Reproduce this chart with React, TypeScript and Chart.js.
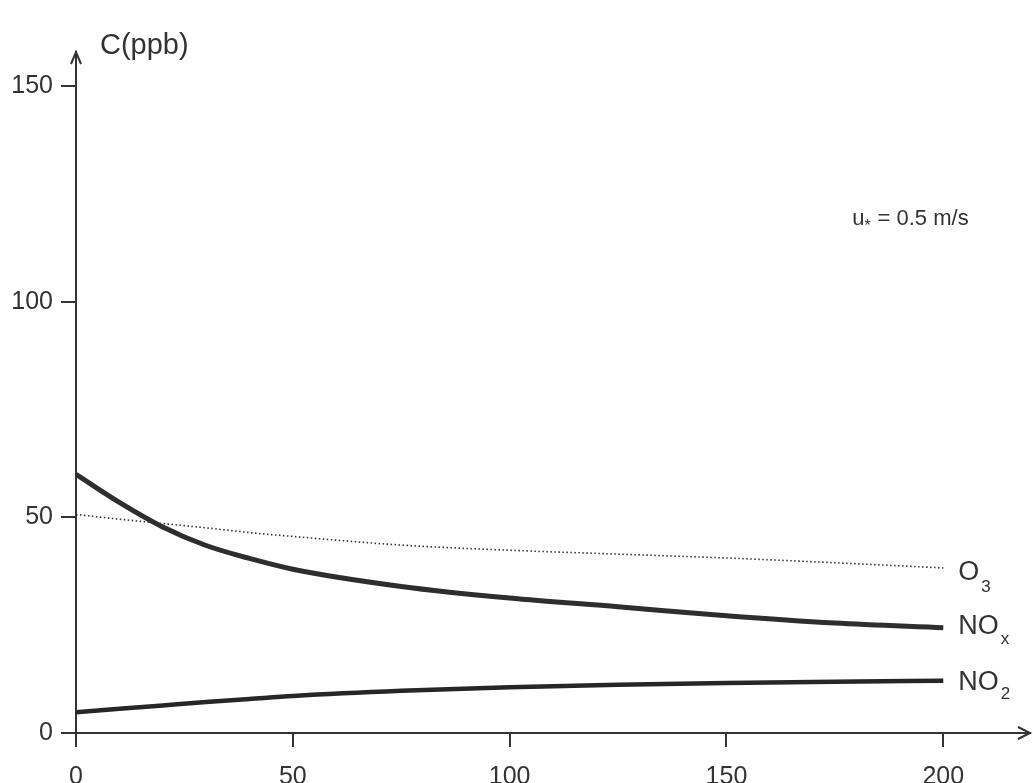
import React, { useEffect, useRef } from "react";
import { Chart, registerables } from "chart.js";

Chart.register(...registerables);

// Distance downwind (x) and concentrations in ppb
const distance = [0, 10, 20, 30, 40, 50, 75, 100, 125, 150, 175, 200];
const noxValues = [60, 53.5, 47.8, 43.5, 40.5, 38, 34, 31.3, 29.3, 27.2, 25.5, 24.4];
const o3Values = [50.7, 49.6, 48.6, 47.6, 46.5, 45.6, 43.6, 42.4, 41.5, 40.6, 39.5, 38.3];
const no2Values = [4.8, 5.6, 6.4, 7.2, 7.9, 8.6, 9.8, 10.6, 11.2, 11.6, 11.9, 12.1];

const xTickValues = [0, 50, 100, 150, 200];
const yTickValues = [0, 50, 100, 150];

const INK = "#333333";
const FONT = "'Liberation Sans', Arial, sans-serif";

const toPoints = (ys: number[]) => distance.map((x, i) => ({ x, y: ys[i] }));

// Arrowheads on the axes plus the text annotations
const annotations = {
  id: "annotations",
  afterDraw(chart: any) {
    const { ctx, chartArea } = chart;
    const xs = chart.scales.x;
    const ys = chart.scales.y;
    ctx.save();
    ctx.strokeStyle = INK;
    ctx.lineWidth = 2;
    // y-axis arrow
    ctx.beginPath();
    ctx.moveTo(chartArea.left - 5, chartArea.top + 12);
    ctx.lineTo(chartArea.left, chartArea.top);
    ctx.lineTo(chartArea.left + 5, chartArea.top + 12);
    ctx.stroke();
    // x-axis arrow
    ctx.beginPath();
    ctx.moveTo(chartArea.right - 12, chartArea.bottom - 6);
    ctx.lineTo(chartArea.right, chartArea.bottom);
    ctx.lineTo(chartArea.right - 12, chartArea.bottom + 6);
    ctx.stroke();

    ctx.fillStyle = INK;
    ctx.textBaseline = "middle";
    ctx.textAlign = "left";

    // axis title
    ctx.font = `29px ${FONT}`;
    ctx.fillText("C(ppb)", chartArea.left + 24, 46);

    // friction velocity note
    const ux = xs.getPixelForValue(179);
    const uy = ys.getPixelForValue(119.3);
    ctx.font = `22px ${FONT}`;
    ctx.fillText("u", ux, uy);
    const uw = ctx.measureText("u").width;
    ctx.font = `16px ${FONT}`;
    ctx.fillText("*", ux + uw, uy + 8);
    ctx.font = `22px ${FONT}`;
    ctx.fillText(" = 0.5 m/s", ux + uw + 7, uy);

    // series labels with subscripts
    const lx = xs.getPixelForValue(200) + 15;
    const label = (main: string, sub: string, v: number, subDy: number) => {
      const py = ys.getPixelForValue(v);
      ctx.font = `27px ${FONT}`;
      ctx.fillText(main, lx, py);
      const w = ctx.measureText(main).width;
      ctx.font = `17px ${FONT}`;
      ctx.fillText(sub, lx + w + 2, py + subDy);
    };
    label("O", "3", 37.3, 15);
    label("NO", "x", 24.7, 13);
    label("NO", "2", 11.6, 11);
    ctx.restore();
  },
};

export default function App() {
  const canvasRef = useRef<HTMLCanvasElement | null>(null);

  useEffect(() => {
    if (!canvasRef.current) return;
    const chart = new Chart(canvasRef.current, {
      type: "line",
      data: {
        datasets: [
          {
            label: "O3",
            data: toPoints(o3Values),
            borderColor: INK,
            borderWidth: 1.6,
            borderDash: [1.5, 2.5],
            pointRadius: 0,
            cubicInterpolationMode: "monotone",
          },
          {
            label: "NOx",
            data: toPoints(noxValues),
            borderColor: "#2e2e2e",
            borderWidth: 5,
            pointRadius: 0,
            cubicInterpolationMode: "monotone",
          },
          {
            label: "NO2",
            data: toPoints(no2Values),
            borderColor: "#262626",
            borderWidth: 4.5,
            pointRadius: 0,
            cubicInterpolationMode: "monotone",
          },
        ],
      },
      options: {
        animation: false,
        responsive: false,
        events: [],
        layout: { padding: { left: 0, right: 3, top: 52, bottom: 0 } },
        plugins: { legend: { display: false }, tooltip: { enabled: false } },
        scales: {
          x: {
            type: "linear",
            min: 0,
            max: 220,
            afterBuildTicks: (s: any) => {
              s.ticks = xTickValues.map((v) => ({ value: v }));
            },
            afterFit: (s: any) => {
              s.height = 50;
            },
            border: { display: true, color: INK, width: 2 },
            grid: { drawOnChartArea: false, drawTicks: true, tickLength: 14, color: INK, lineWidth: 2 },
            ticks: { color: INK, font: { family: FONT, size: 25 }, padding: 15, maxRotation: 0 },
          },
          y: {
            type: "linear",
            min: 0,
            max: 158,
            afterBuildTicks: (s: any) => {
              s.ticks = yTickValues.map((v) => ({ value: v }));
            },
            afterFit: (s: any) => {
              s.width = 76;
            },
            border: { display: true, color: INK, width: 2 },
            grid: { drawOnChartArea: false, drawTicks: true, tickLength: 15, color: INK, lineWidth: 2 },
            ticks: { color: INK, font: { family: FONT, size: 25 }, padding: 8 },
          },
        },
      },
      plugins: [annotations],
    });
    return () => chart.destroy();
  }, []);

  return (
    <div style={{ position: "fixed", left: 0, top: 0, width: 1033, height: 783, background: "#fff" }}>
      <canvas ref={canvasRef} width={1033} height={783} style={{ width: 1033, height: 783 }} />
    </div>
  );
}
